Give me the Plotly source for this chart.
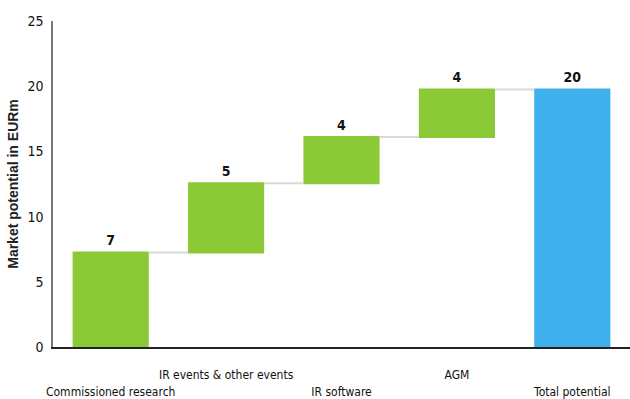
import plotly.graph_objects as go

categories = ["Commissioned research", "IR events & other events", "IR software", "AGM", "Total potential"]
upper_row = ["IR events & other events", "AGM"]
lower_row = ["Commissioned research", "IR software", "Total potential"]
increments = [7.25, 5.3, 3.55, 3.65]
measures = ["relative", "relative", "relative", "relative", "total"]

total = sum(increments)
values = increments + [0]
labels = [f"<b>{v:.0f}</b>" for v in increments] + [f"<b>{total:.0f}</b>"]

green = "#8CC937"
blue = "#40B0EC"
font_main = "DejaVu Sans Condensed, Liberation Sans Narrow, sans-serif"

fig = go.Figure(go.Waterfall(
    x=categories,
    y=values,
    measure=measures,
    text=labels,
    textposition="outside",
    textfont=dict(family=font_main, size=14, color="#111111"),
    increasing=dict(marker=dict(color=green)),
    totals=dict(marker=dict(color=blue)),
    connector=dict(line=dict(color="#d9d9d9", width=2)),
    width=0.66,
    cliponaxis=False,
    hoverinfo="skip",
))
# invisible helper trace so the second (lower-row label) axis is drawn
fig.add_trace(go.Scatter(x=categories, y=[None] * len(categories), xaxis="x2",
                         mode="markers", showlegend=False, hoverinfo="skip"))

tick_font = dict(family=font_main, size=12, color="#111111")

fig.update_layout(
    width=630, height=399,
    margin=dict(l=53, r=0, t=21, b=52, autoexpand=False),
    paper_bgcolor="white", plot_bgcolor="white",
    showlegend=False,
    font=dict(family=font_main, size=13, color="#111111"),
    xaxis=dict(
        type="category", categoryorder="array", categoryarray=categories,
        range=[-0.5, 4.5],
        tickmode="array", tickvals=upper_row, ticktext=upper_row,
        tickangle=0, automargin=False,
        showline=True, linecolor="#222222", linewidth=2,
        showgrid=False, ticks="", ticklabelstandoff=16,
        tickfont=tick_font,
    ),
    xaxis2=dict(
        type="category", categoryorder="array", categoryarray=categories,
        range=[-0.5, 4.5], overlaying="x", anchor="y", side="bottom",
        tickmode="array", tickvals=lower_row, ticktext=lower_row,
        tickangle=0, automargin=False,
        showline=False, showgrid=False, zeroline=False, ticks="",
        ticklabelstandoff=36,
        tickfont=tick_font,
    ),
    yaxis=dict(
        range=[0, 25], tickmode="array", tickvals=[0, 5, 10, 15, 20, 25],
        automargin=False,
        showline=True, linecolor="#777777", linewidth=1.5,
        showgrid=False, zeroline=False, ticks="",
        ticklabelstandoff=5,
        tickfont=dict(family=font_main, size=14, color="#111111"),
        title=dict(text="<b>Market potential in EURm</b>",
                   font=dict(family="Liberation Sans, Arial, sans-serif", size=14, color="#222222"),
                   standoff=6),
    ),
)

fig.write_html("out.html")
